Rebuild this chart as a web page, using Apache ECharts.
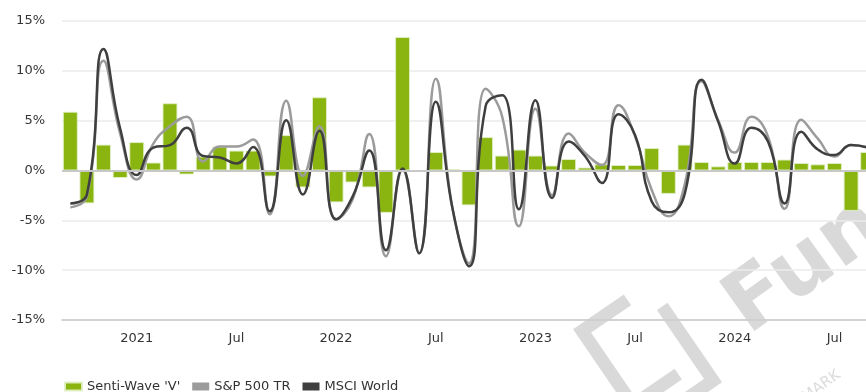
<!DOCTYPE html>
<html>
<head>
<meta charset="utf-8">
<style>
  html, body { margin: 0; padding: 0; background: #fff; overflow: hidden; }
  #chart { width: 876px; height: 392px; }
</style>
<script src="https://cdn.jsdelivr.net/npm/echarts@6/dist/echarts.min.js"></script>
</head>
<body>
<div id="chart"></div>
<script>
// Monthly periods, Sep 2020 – Sep 2024
const months = [
  '2020-09','2020-10','2020-11','2020-12',
  '2021-01','2021-02','2021-03','2021-04','2021-05','2021-06','2021-07','2021-08','2021-09','2021-10','2021-11','2021-12',
  '2022-01','2022-02','2022-03','2022-04','2022-05','2022-06','2022-07','2022-08','2022-09','2022-10','2022-11','2022-12',
  '2023-01','2023-02','2023-03','2023-04','2023-05','2023-06','2023-07','2023-08','2023-09','2023-10','2023-11','2023-12',
  '2024-01','2024-02','2024-03','2024-04','2024-05','2024-06','2024-07','2024-08','2024-09'
];

// Monthly returns in %
const sentiWave = [
  5.9, -3.3, 2.6, -0.75,
  2.85, 0.8, 6.75, -0.4, 1.4, 2.4, 2.0, 2.0, -0.6, 3.55, -1.7, 7.35,
  -3.2, -1.2, -1.7, -4.25, 13.4, 0, 1.85, 0.15, -3.5, 3.35, 1.5, 2.1,
  1.5, 0.5, 1.15, 0.3, 0.62, 0.55, 0.55, 2.25, -2.35, 2.6, 0.85, 0.42,
  0.85, 0.85, 0.85, 1.1, 0.75, 0.62, 0.75, -4.05, 1.85
];

const sp500tr = [
  -3.7, -2.6, 11.0, 3.7,
  -0.9, 2.7, 4.45, 5.4, 0.9, 2.4, 2.4, 3.1, -4.4, 7.0, -0.55, 4.45,
  -4.9, -2.9, 3.65, -8.6, 0.05, -8.3, 9.2, -3.75, -9.3, 8.2, 5.4, -5.6,
  6.2, -2.45, 3.7, 1.75, 0.55, 6.55, 3.4, -1.95, -4.6, -1.3, 8.95, 5.05,
  1.8, 5.4, 3.4, -3.85, 5.1, 3.2, 1.4, 2.55, 2.3
];

const msciWorld = [
  -3.3, -2.4, 12.2, 4.2,
  -0.45, 2.3, 2.55, 4.3, 1.45, 1.3, 0.7, 2.35, -4.1, 5.05, -2.4, 4.0,
  -4.9, -2.6, 2.0, -8.0, 0.2, -8.3, 6.9, -3.75, -9.6, 6.45, 7.55, -3.9,
  7.05, -2.75, 2.9, 1.4, -1.25, 5.65, 3.55, -3.1, -4.2, -2.25, 9.1, 4.9,
  0.7, 4.3, 2.9, -3.3, 3.9, 2.1, 1.55, 2.55, 2.3
];

const yTicks = { min: -15, max: 15, step: 5 };

const FONT = 'DejaVu Sans';
const MARK_FILL = 'rgba(0,0,0,0.15)';

// Axis labels only on January (year) and July
function isMarked(idx) {
  const m = months[idx].slice(5);
  return m === '01' || m === '07';
}
function monthLabel(value) {
  const [y, m] = value.split('-');
  if (m === '01') return y;
  if (m === '07') return 'Jul';
  return '';
}

const chart = echarts.init(document.getElementById('chart'), null, { renderer: 'canvas' });

chart.setOption({
  animation: false,
  backgroundColor: '#ffffff',
  textStyle: { fontFamily: FONT },
  grid: { left: 62, top: 21, bottom: 72, right: 0, containLabel: false },
  legend: {
    left: 64,
    top: 380,
    padding: 0,
    itemGap: 12,
    itemWidth: 17,
    itemHeight: 8,
    icon: 'rect',
    textStyle: { fontFamily: FONT, fontSize: 13, color: '#333' },
    data: ["Senti-Wave 'V'", 'S&P 500 TR', 'MSCI World']
  },
  xAxis: {
    type: 'category',
    data: months,
    boundaryGap: true,
    axisLine: { onZero: false, lineStyle: { color: '#c8c8c8', width: 1.5 } },
    axisTick: {
      alignWithLabel: true,
      interval: (i) => isMarked(i),
      length: 5,
      lineStyle: { color: '#c8c8c8', width: 1 }
    },
    axisLabel: {
      interval: (i) => isMarked(i),
      formatter: monthLabel,
      color: '#333',
      fontFamily: FONT,
      fontSize: 13,
      margin: 12
    },
    splitLine: { show: false }
  },
  yAxis: {
    type: 'value',
    min: yTicks.min,
    max: yTicks.max,
    interval: yTicks.step,
    axisLine: { show: false },
    axisTick: { show: false },
    axisLabel: {
      formatter: (v) => v + '%',
      color: '#333',
      fontFamily: FONT,
      fontSize: 13,
      margin: 17
    },
    splitLine: { lineStyle: { color: '#ebebeb', width: 1.5 } }
  },
  // faint brand watermark in the lower right corner
  graphic: [
    {
      type: 'group',
      x: 700, y: 335,
      rotation: 0.6,
      silent: true,
      z: 0,
      children: [
        {
          type: 'polyline',
          shape: { points: [[-40, -70], [-95, -70], [-95, 20], [-40, 20]] },
          style: { stroke: MARK_FILL, lineWidth: 13, fill: null, lineJoin: 'miter' }
        },
        {
          type: 'polyline',
          shape: { points: [[-70, 45], [-15, 45], [-15, -45]] },
          style: { stroke: MARK_FILL, lineWidth: 13, fill: null, lineJoin: 'miter' }
        }
      ]
    },
    {
      type: 'text',
      x: 760, y: 352,
      rotation: 0.62,
      silent: true,
      z: 0,
      style: {
        text: 'Fund',
        fontFamily: FONT,
        fontWeight: 'bold',
        fontSize: 84,
        fill: MARK_FILL,
        verticalAlign: 'bottom'
      }
    },
    {
      type: 'text',
      x: 808, y: 405,
      rotation: 0.62,
      silent: true,
      z: 0,
      style: {
        text: 'MARK',
        fontFamily: FONT,
        fontSize: 15,
        fill: MARK_FILL,
        verticalAlign: 'bottom'
      }
    }
  ],
  series: [
    {
      name: "Senti-Wave 'V'",
      type: 'bar',
      data: sentiWave,
      barCategoryGap: '10%',
      itemStyle: { color: '#8ab40f', borderColor: 'rgba(225,240,200,0.9)', borderWidth: 1 },
      z: 2,
      markLine: {
        silent: true,
        symbol: 'none',
        label: { show: false },
        lineStyle: { color: '#c8c8c8', width: 2, type: 'solid' },
        data: [{ yAxis: 0 }]
      }
    },
    {
      name: 'S&P 500 TR',
      type: 'line',
      data: sp500tr,
      smooth: 0.5,
      showSymbol: false,
      lineStyle: { color: '#9b9b9b', width: 2.5 },
      itemStyle: { color: '#9b9b9b' },
      z: 3
    },
    {
      name: 'MSCI World',
      type: 'line',
      data: msciWorld,
      smooth: 0.5,
      showSymbol: false,
      lineStyle: { color: '#3f3f3f', width: 2.5 },
      itemStyle: { color: '#3f3f3f' },
      z: 4
    }
  ]
});
</script>
</body>
</html>
